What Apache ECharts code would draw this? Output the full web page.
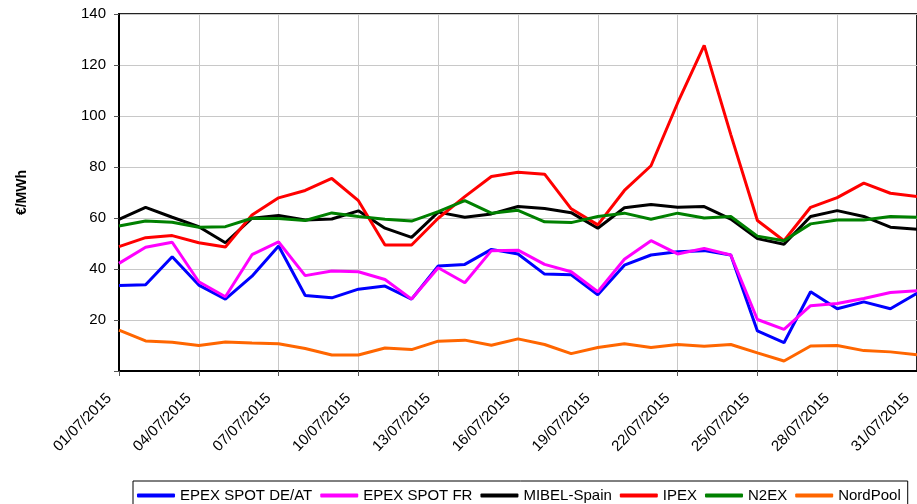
<!DOCTYPE html>
<html>
<head>
<meta charset="utf-8">
<script src="https://cdn.jsdelivr.net/npm/echarts@6/dist/echarts.min.js"></script>
<style>
  html, body { margin: 0; padding: 0; background: #fff; }
  #chart { width: 917px; height: 504px; }
</style>
</head>
<body>
<div id="chart"></div>
<script>
// daily spot prices, July 2015 (€/MWh)
const days = [
  '01/07/2015', '02/07/2015', '03/07/2015', '04/07/2015', '05/07/2015', '06/07/2015',
  '07/07/2015', '08/07/2015', '09/07/2015', '10/07/2015', '11/07/2015', '12/07/2015',
  '13/07/2015', '14/07/2015', '15/07/2015', '16/07/2015', '17/07/2015', '18/07/2015',
  '19/07/2015', '20/07/2015', '21/07/2015', '22/07/2015', '23/07/2015', '24/07/2015',
  '25/07/2015', '26/07/2015', '27/07/2015', '28/07/2015', '29/07/2015', '30/07/2015',
  '31/07/2015'
]

const epexDeAt = [33.5, 33.8, 44.8, 33.7, 28.2, 37.2, 49.0, 29.6, 28.7, 32.1, 33.3, 28.2,
  41.2, 41.8, 47.7, 45.9, 38.0, 37.7, 29.9, 41.5, 45.5, 46.8, 47.2, 45.5, 15.7, 11.1,
  31.1, 24.4, 27.1, 24.4, 30.5]
const epexFr = [42.2, 48.5, 50.5, 35.0, 29.1, 45.6, 50.6, 37.4, 39.2, 38.9, 35.9, 28.2,
  40.5, 34.6, 47.2, 47.4, 41.8, 38.9, 31.1, 43.8, 51.1, 45.9, 48.1, 45.5, 20.2, 16.3,
  25.6, 26.5, 28.4, 30.8, 31.5]
const mibel = [59.5, 64.2, 60.3, 56.6, 50.3, 59.9, 61.0, 59.2, 59.6, 62.8, 56.0, 52.4,
  62.3, 60.3, 61.6, 64.5, 63.7, 62.1, 56.0, 64.0, 65.3, 64.2, 64.5, 59.6, 51.9, 49.7,
  60.6, 62.9, 60.6, 56.4, 55.6]
const ipex = [48.8, 52.3, 53.1, 50.3, 48.6, 61.2, 67.9, 70.8, 75.5, 66.8, 49.4, 49.4,
  59.9, 68.4, 76.3, 77.9, 77.2, 63.6, 57.3, 70.8, 80.5, 105.1, 127.7, 92.7, 59.0, 51.1,
  64.2, 68.0, 73.7, 69.7, 68.4]
const n2ex = [56.9, 58.8, 58.3, 56.4, 56.6, 59.9, 59.8, 59.0, 62.0, 60.6, 59.5, 58.8,
  62.5, 66.8, 61.9, 63.0, 58.5, 58.2, 60.6, 61.9, 59.5, 61.9, 60.0, 60.6, 52.9, 51.1,
  57.7, 59.2, 59.2, 60.6, 60.3]
const nordPool = [16.0, 11.8, 11.3, 10.0, 11.4, 11.0, 10.7, 8.8, 6.3, 6.3, 9.0, 8.4,
  11.7, 12.1, 10.1, 12.6, 10.4, 6.8, 9.2, 10.7, 9.2, 10.4, 9.7, 10.4, 7.1, 3.9,
  9.8, 10.0, 8.0, 7.5, 6.4]

const seriesNames = ['EPEX SPOT DE/AT', 'EPEX SPOT FR', 'MIBEL-Spain', 'IPEX', 'N2EX', 'NordPool']
const seriesData = [epexDeAt, epexFr, mibel, ipex, n2ex, nordPool]
const seriesColors = ['#0000ff', '#ff00ff', '#000000', '#ff0000', '#008000', '#ff6600']

const yMin = 0
const yMax = 140
const yStep = 20

const font = "'Liberation Sans', Arial, sans-serif"

const chart = echarts.init(document.getElementById('chart'))

const option = {
  animation: false,
  textStyle: { fontFamily: font },
  grid: {
    left: 119,
    right: -2,
    top: 14,
    bottom: 133,
    show: true,
    borderColor: '#222',
    borderWidth: 2
  },
  legend: {
    left: 133,
    top: 481,
    padding: [7, 7, 20, 4],
    borderColor: '#000',
    borderWidth: 1,
    icon: 'roundRect',
    itemWidth: 38,
    itemHeight: 4,
    itemGap: 8,
    textStyle: { fontFamily: font, fontSize: 15, color: '#000' },
    data: seriesNames
  },
  xAxis: {
    type: 'category',
    data: days,
    boundaryGap: false,
    axisLine: { lineStyle: { color: '#000', width: 2 } },
    axisTick: { interval: 2, length: 5, lineStyle: { color: '#555' } },
    splitLine: { show: true, interval: 2, lineStyle: { color: '#c8c8c8', width: 1 } },
    axisLabel: {
      interval: 2,
      rotate: 45,
      margin: 15,
      padding: [0, 14, 0, 0],
      fontFamily: font,
      fontSize: 15,
      color: '#000'
    }
  },
  yAxis: {
    type: 'value',
    min: yMin,
    max: yMax,
    interval: yStep,
    name: '€/MWh',
    nameLocation: 'middle',
    nameGap: 90,
    nameTextStyle: { fontFamily: font, fontSize: 14, fontWeight: 'bold', color: '#000' },
    axisLine: { show: true, lineStyle: { color: '#000', width: 2 } },
    axisTick: { show: true, length: 5, lineStyle: { color: '#555' } },
    splitLine: { lineStyle: { color: '#c8c8c8', width: 1 } },
    axisLabel: {
      margin: 13,
      fontFamily: font,
      fontSize: 15,
      color: '#000',
      formatter: v => (v === 0 ? '' : String(v))
    }
  },
  series: seriesNames.map((name, i) => ({
    name: name,
    type: 'line',
    data: seriesData[i],
    symbol: 'none',
    color: seriesColors[i],
    lineStyle: { width: 3, color: seriesColors[i] }
  }))
}

chart.setOption(option)
</script>
</body>
</html>
